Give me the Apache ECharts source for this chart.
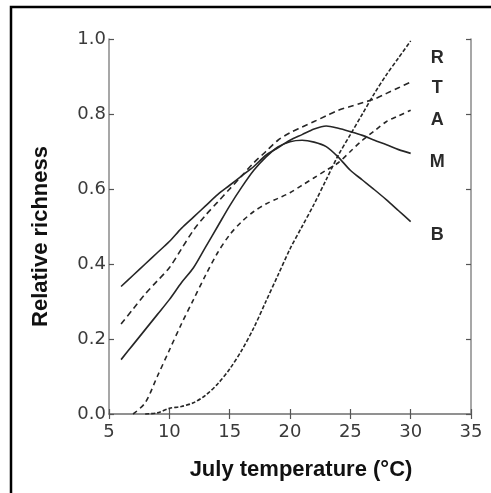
<!DOCTYPE html>
<html>
<head>
<meta charset="utf-8">
<title>Relative richness vs July temperature</title>
<script src="https://cdn.jsdelivr.net/npm/echarts@6/dist/echarts.min.js"></script>
<style>
  html, body { margin: 0; padding: 0; background: #fff; }
  #chart { width: 491px; height: 493px; }
</style>
</head>
<body>
<div id="chart"></div>
<script>
// July temperature (°C), shared x for every curve
const temps = [6, 7, 8, 9, 10, 11, 12, 13, 14, 15, 16, 17, 18, 19, 20, 21, 22, 23, 24, 25, 26, 27, 28, 29, 30];

// relative richness (null = curve not drawn there)
const richR = [null, null, 0.0, 0.003, 0.015, 0.02, 0.03, 0.05, 0.08, 0.12, 0.17, 0.23, 0.30, 0.37, 0.44, 0.50, 0.56, 0.625, 0.69, 0.745, 0.80, 0.855, 0.905, 0.95, 0.995];
const richT = [0.24, 0.28, 0.32, 0.355, 0.39, 0.44, 0.49, 0.53, 0.565, 0.60, 0.635, 0.67, 0.70, 0.73, 0.75, 0.765, 0.78, 0.795, 0.81, 0.82, 0.83, 0.84, 0.855, 0.87, 0.885];
const richA = [null, 0.0, 0.03, 0.10, 0.17, 0.24, 0.305, 0.37, 0.43, 0.478, 0.513, 0.54, 0.56, 0.575, 0.59, 0.61, 0.63, 0.65, 0.67, 0.70, 0.73, 0.755, 0.78, 0.795, 0.81];
const richM = [0.34, 0.37, 0.40, 0.43, 0.46, 0.495, 0.525, 0.555, 0.585, 0.61, 0.635, 0.66, 0.69, 0.71, 0.73, 0.745, 0.76, 0.768, 0.762, 0.753, 0.743, 0.73, 0.718, 0.705, 0.695];
const richB = [0.145, 0.185, 0.225, 0.265, 0.305, 0.35, 0.39, 0.445, 0.50, 0.555, 0.605, 0.65, 0.685, 0.712, 0.726, 0.73, 0.725, 0.713, 0.685, 0.65, 0.624, 0.598, 0.571, 0.542, 0.513];

// curve names and where their letters sit beside the plot
const seriesNames = ['R', 'T', 'A', 'M', 'B'];
const seriesValues = [richR, richT, richA, richM, richB];
const labelY = [0.95, 0.87, 0.783, 0.672, 0.477];
const lineTypes = [[4, 2], [6, 4], [5, 4], 'solid', 'solid'];

const xTicks = [5, 10, 15, 20, 25, 30, 35];

const font = 'Liberation Sans, Arial, sans-serif';
const tickFont = 'DejaVu Sans, Liberation Sans, sans-serif';
const axisColor = '#8a8a8a';

const chart = echarts.init(document.getElementById('chart'), null, { renderer: 'canvas' });

const series = seriesNames.map((name, i) => ({
  name,
  type: 'line',
  data: temps.map((t, j) => (seriesValues[i][j] == null ? null : [t, seriesValues[i][j]])),
  showSymbol: false,
  smooth: 0.3,
  connectNulls: false,
  clip: false,
  lineStyle: { color: '#262626', width: 1.6, type: lineTypes[i] },
  emphasis: { disabled: true },
  markPoint: {
    symbol: 'circle',
    symbolSize: 0,
    silent: true,
    data: [{ coord: [32.2, labelY[i]] }],
    label: {
      show: true,
      position: 'inside',
      formatter: name,
      color: '#2a2a2a',
      fontFamily: font,
      fontSize: 18,
      fontWeight: 'bold'
    }
  }
}));

chart.setOption({
  animation: false,
  backgroundColor: '#fff',
  grid: { left: 109, right: 20, top: 39, bottom: 79 },
  xAxis: [
    {
      type: 'value',
      min: xTicks[0],
      max: xTicks[xTicks.length - 1],
      interval: 5,
      name: 'July temperature (°C)',
      nameLocation: 'middle',
      nameGap: 45,
      // the printed title sits a little right of the plot centre
      nameTextStyle: { fontFamily: font, fontSize: 22, fontWeight: 'bold', color: '#111', padding: [0, 0, 0, 22] },
      axisLine: { show: true, lineStyle: { color: axisColor, width: 1.5 } },
      axisTick: { show: true, inside: true, length: 5, lineStyle: { color: '#555', width: 1.2 } },
      axisLabel: { color: '#3a3a3a', fontFamily: tickFont, fontSize: 18, margin: 9 },
      splitLine: { show: false }
    },
    {
      type: 'value',
      position: 'top',
      min: xTicks[0],
      max: xTicks[xTicks.length - 1],
      interval: 5,
      axisLine: { show: true, lineStyle: { color: axisColor, width: 1.5 } },
      axisTick: { show: true, inside: true, length: 5, lineStyle: { color: '#555', width: 1.2 } },
      axisLabel: { show: false },
      splitLine: { show: false }
    }
  ],
  yAxis: [
    {
      type: 'value',
      min: 0,
      max: 1,
      interval: 0.2,
      name: 'Relative richness',
      nameLocation: 'middle',
      nameGap: 57,
      // and this one a little below the middle
      nameTextStyle: { fontFamily: font, fontSize: 22, fontWeight: 'bold', color: '#111', padding: [0, 20, 0, 0] },
      axisLine: { show: true, lineStyle: { color: axisColor, width: 1.5 } },
      axisTick: { show: true, inside: true, length: 5, lineStyle: { color: '#555', width: 1.2 } },
      axisLabel: { color: '#3a3a3a', fontFamily: tickFont, fontSize: 18, margin: 3, formatter: v => v.toFixed(1) },
      splitLine: { show: false }
    },
    {
      type: 'value',
      position: 'right',
      min: 0,
      max: 1,
      interval: 0.2,
      axisLine: { show: true, lineStyle: { color: axisColor, width: 1.5 } },
      axisTick: { show: true, inside: true, length: 5, lineStyle: { color: '#555', width: 1.2 } },
      axisLabel: { show: false },
      splitLine: { show: false }
    }
  ],
  graphic: [
    {
      // outer frame, cut off at the right and bottom edges like the scan
      type: 'polyline',
      shape: { points: [[11, 500], [11, 7], [500, 7]] },
      style: { stroke: '#000', lineWidth: 2.5, fill: null },
      silent: true
    }
  ],
  series
});
</script>
</body>
</html>
